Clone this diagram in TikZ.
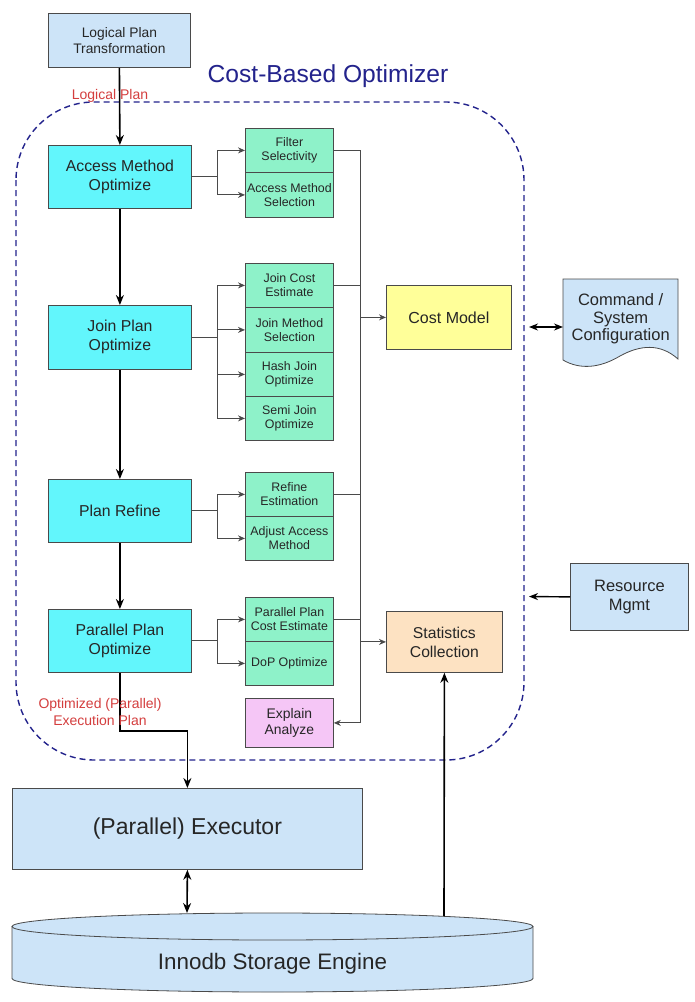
\documentclass[tikz,border=0pt]{standalone}
\usepackage{fontspec}
\setmainfont{Liberation Sans}
\usetikzlibrary{arrows.meta,calc}
\definecolor{lblue}{HTML}{CDE4F8}
\definecolor{cyanc}{HTML}{62F6FC}
\definecolor{greenc}{HTML}{8EF2C9}
\definecolor{yellowc}{HTML}{FFFF99}
\definecolor{peachc}{HTML}{FDE2C2}
\definecolor{pinkc}{HTML}{F5C6F6}
\definecolor{navyc}{HTML}{23238C}
\definecolor{redc}{HTML}{D43E3E}
\definecolor{edgec}{HTML}{4A4A4A}
\tikzset{
  box/.style={draw=edgec, line width=0.8pt, anchor=north west, align=center, inner sep=0pt, text=black!85},
  mainbox/.style={box, fill=cyanc, minimum width=143pt, minimum height=63pt, font=\fontsize{15.8}{19}\selectfont},
  subbox/.style={box, fill=greenc, minimum width=88pt, font=\fontsize{12.4}{14.3}\selectfont},
  bigarrow/.style={line width=1.6pt, black, -{Stealth[length=10pt,width=8pt]}},
  thinline/.style={line width=0.9pt, edgec},
  thinarrow/.style={thinline, -{Stealth[length=7pt,width=6pt]}},
  redlabel/.style={text=redc, align=center, font=\fontsize{14}{17}\selectfont},
}
\begin{document}
\begin{tikzpicture}[x=1pt,y=-1pt]
\useasboundingbox[fill=white] (0,0) rectangle (694,1002);

% dashed optimizer boundary
\draw[navyc, line width=1.4pt, dash pattern=on 6pt off 4pt, rounded corners=78pt] (16,102) rectangle (524,760);
\node[text=navyc, font=\fontsize{24.6}{28}\selectfont] (title) at (328,76) {Cost-Based Optimizer};

% left column
\node[box, fill=lblue, minimum width=142pt, minimum height=54pt, font=\fontsize{13.8}{16.5}\selectfont] (lpt) at (48,13) {Logical Plan\\Transformation};
\node[mainbox] (amo) at (48,145) {Access Method\\Optimize};
\node[mainbox, minimum height=64pt] (jpo) at (48,305) {Join Plan\\Optimize};
\node[mainbox] (pr) at (48,479) {Plan Refine};
\node[mainbox] (ppo) at (48,609) {Parallel Plan\\Optimize};

% sub boxes
\node[subbox, minimum height=44pt] (fs) at (245,128) {Filter\\Selectivity};
\node[subbox, minimum height=45pt] (ams) at (245,172) {Access Method\\Selection};
\node[subbox, minimum height=44pt] (jce) at (245,263) {Join Cost\\Estimate};
\node[subbox, minimum height=45pt] (jms) at (245,307) {Join Method\\Selection};
\node[subbox, minimum height=44pt] (hjo) at (245,352) {Hash Join\\Optimize};
\node[subbox, minimum height=44pt] (sjo) at (245,396) {Semi Join\\Optimize};
\node[subbox, minimum height=44pt] (re) at (245,472) {Refine\\Estimation};
\node[subbox, minimum height=44pt] (aam) at (245,516) {Adjust Access\\Method};
\node[subbox, minimum height=44pt] (ppce) at (245,597) {Parallel Plan\\Cost Estimate};
\node[subbox, minimum height=44pt] (dop) at (245,641) {DoP Optimize};
\node[box, fill=pinkc, minimum width=88pt, minimum height=49pt, font=\fontsize{13.9}{16.5}\selectfont] (ea) at (245,698) {Explain\\Analyze};

% cost model & statistics
\node[box, fill=yellowc, minimum width=125pt, minimum height=64pt, font=\fontsize{16}{19}\selectfont] (cm) at (386,285) {Cost Model};
\node[box, fill=peachc, minimum width=116pt, minimum height=61pt, font=\fontsize{15.7}{19}\selectfont] (stats) at (386,611) {Statistics\\Collection};

% command / system configuration (document shape)
\fill[lblue] (563,279) -- (678,279) -- (678,359) .. controls (660,343) and (640,345) .. (620,356) .. controls (600,368) and (580,370) .. (563,360) -- cycle;
\draw[edgec, line width=0.8pt] (563,279) -- (678,279) -- (678,359) .. controls (660,343) and (640,345) .. (620,356) .. controls (600,368) and (580,370) .. (563,360) -- cycle;
\node[anchor=north west, align=center, inner sep=0pt, minimum width=115pt, minimum height=80pt, text=black!85, font=\fontsize{16.5}{17.5}\selectfont] (cmd) at (563,279) {Command /\\System\\Configuration};

% resource mgmt
\node[box, fill=lblue, minimum width=118pt, minimum height=67pt, font=\fontsize{16.5}{19}\selectfont] (rm) at (570,563) {Resource\\Mgmt};

% executor
\node[box, fill=lblue, minimum width=350pt, minimum height=81pt, font=\fontsize{23}{27}\selectfont] (exec) at (12,788) {(Parallel) Executor};

% storage cylinder
\fill[lblue] (12,926.5) -- (12,978.5) arc[start angle=180, end angle=0, x radius=260.5, y radius=13.5] -- (533,926.5) -- cycle;
\draw[edgec, line width=0.8pt] (12,926.5) -- (12,978.5) arc[start angle=180, end angle=0, x radius=260.5, y radius=13.5] -- (533,926.5);
\draw[edgec, line width=0.8pt, fill=lblue] (272.5,926.5) ellipse[x radius=260.5, y radius=13.5];
\node[text=black!85, font=\fontsize{22.4}{26}\selectfont] (inno) at (272.5,964) {Innodb Storage Engine};
\coordinate (dbtop) at (187,913);
\coordinate (dbstat) at (444,916);

% labels
\node[redlabel] (lplabel) at (110,96) {Logical Plan};

% main flow
\draw[bigarrow] (lpt.south) -- (amo.north);
\draw[bigarrow] (amo.south) -- (jpo.north);
\draw[bigarrow] (jpo.south) -- (pr.north);
\draw[bigarrow] (pr.south) -- (ppo.north);
\draw[bigarrow] (ppo.south) -- ++(0,58) -| (exec.north);
\node[redlabel] (eplabel) at (100,712) {Optimized (Parallel)\\Execution Plan};
\draw[line width=1.6pt, black, {Stealth[length=10pt,width=8pt]}-{Stealth[length=10pt,width=8pt]}] (exec.south) -- (dbtop);
\draw[bigarrow] (dbstat) -- (stats.south);

% branches
\draw[thinarrow] (amo.east) -- ++(26,0) |- (fs.west);
\draw[thinarrow] (amo.east) -- ++(26,0) |- (ams.west);
\draw[thinarrow] (jpo.east) -- ++(26,0) |- (jce.west);
\draw[thinarrow] (jpo.east) -- ++(26,0) |- (jms.west);
\draw[thinarrow] (jpo.east) -- ++(26,0) |- (hjo.west);
\draw[thinarrow] (jpo.east) -- ++(26,0) |- (sjo.west);
\draw[thinarrow] (pr.east) -- ++(26,0) |- (re.west);
\draw[thinarrow] (pr.east) -- ++(26,0) |- (aam.west);
\draw[thinarrow] (ppo.east) -- ++(26,0) |- (ppce.west);
\draw[thinarrow] (ppo.east) -- ++(26,0) |- (dop.west);

% bus to cost model / statistics / explain
\draw[thinline] (fs.east) -- ++(27,0) coordinate (bt);
\draw[thinarrow] (bt) |- (ea.east);
\draw[thinline] (jce.east) -- (jce.east -| bt);
\draw[thinline] (re.east) -- (re.east -| bt);
\draw[thinline] (ppce.east) -- (ppce.east -| bt);
\draw[thinarrow] (bt |- cm.west) -- (cm.west);
\draw[thinarrow] (bt |- stats.west) -- (stats.west);

% external inputs
\coordinate (cfgend) at (529,327);
\coordinate (rmend) at (529,596.5);
\draw[line width=1.4pt, black, {Stealth[length=9pt,width=7pt]}-{Stealth[length=9pt,width=7pt]}] (cfgend) -- (cfgend -| cmd.west);
\draw[line width=1.4pt, black, -{Stealth[length=9pt,width=7pt]}] (rm.west) -- (rmend);
\end{tikzpicture}
\end{document}
